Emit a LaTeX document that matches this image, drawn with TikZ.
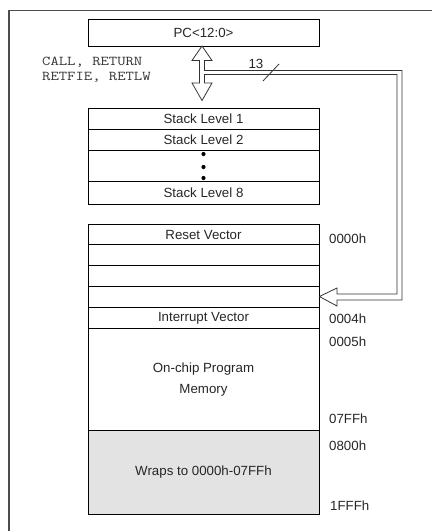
\documentclass[tikz,border=0pt]{standalone}
\usepackage{fontspec}
\setmainfont{Liberation Sans}
\newfontfamily\monof[FakeStretch=1.2]{Latin Modern Mono}
\begin{document}
\begin{tikzpicture}[x=1pt,y=-1pt,
  cell/.style={draw=black,line width=0.8pt,inner sep=0pt,minimum width=231pt,font=\fontsize{13.3}{15}\selectfont,text=black!85},
  addr/.style={anchor=west,inner sep=0pt,font=\fontsize{13.3}{15}\selectfont,text=black!85},
  arr/.style={draw=black!80,line width=0.8pt,fill=white,line join=miter}]
\useasboundingbox (0,0) rectangle (432,531);
% frame
\draw[black!70,line width=1.2pt] (9,531) -- (9,10.5) -- (432,10.5);
% PC
\node[cell,minimum height=27pt] (pc) at (203.5,32.5) {PC<12:0>};
% stack
\node[cell,minimum height=21pt] (s1) at (203.5,118.5) {Stack Level 1};
\node[cell,minimum height=21pt] (s2) at (203.5,139.5) {Stack Level 2};
\node[cell,minimum height=31pt] (sd) at (203.5,165.5) {};
\node[cell,minimum height=23pt] (s8) at (203.5,192.5) {Stack Level 8};
\foreach \yy in {154,167,178} \fill (203.5,\yy) circle (2.1pt);
% program memory
\node[cell,minimum height=19.5pt] (m0) at (203.5,234.5) {Reset Vector};
\node[cell,minimum height=21pt] (m1) at (203.5,254.5) {};
\node[cell,minimum height=21pt] (m2) at (203.5,275.5) {};
\node[cell,minimum height=21pt] (m3) at (203.5,296.5) {};
\node[cell,minimum height=21.5pt] (m4) at (203.5,318) {Interrupt Vector};
\node[cell,minimum height=102pt,align=center,font=\fontsize{13.3}{21}\selectfont] (m5) at (203.5,379.7) {On-chip Program\\Memory};
\node[cell,minimum height=83.6pt,fill=black!11] (m6) at (203.5,472.5) {Wraps to 0000h-07FFh};
% addresses
\node[addr] (a0) at (329,239) {0000h};
\node[addr] (a4) at (329,319) {0004h};
\node[addr] (a5) at (329,342) {0005h};
\node[addr] (a7) at (329,419) {07FFh};
\node[addr] (a8) at (329,446) {0800h};
\node[addr] (a9) at (330,506) {1FFFh};
% instructions
\node[anchor=north west,inner sep=0pt,align=left,font=\monof\fontsize{13.5}{15}\selectfont,text=black!80] (ins) at (42,56.5) {CALL, RETURN\\RETFIE, RETLW};
% double arrow with bus
\coordinate (tip) at (m3.east);
\draw[arr] (202,46) -- (212,60.5) -- (204.5,60.5) -- (204.5,70.5) -- (402,70.5) -- (402,300)
  -- (337,300) -- (337,306) -- (tip) -- (337,288) -- (337,294) -- (397,294) -- (397,74.5)
  -- (204.5,74.5) -- (204.5,83) -- (212,83) -- (202,100.5) -- (192,83) -- (199.5,83)
  -- (199.5,60.5) -- (192,60.5) -- cycle;
\node[inner sep=0pt,font=\fontsize{13.3}{15}\selectfont,text=black!85] (n13) at (256,64) {13};
\draw[black!80,line width=0.8pt] (263,81) -- (279,64);
\end{tikzpicture}
\end{document}
